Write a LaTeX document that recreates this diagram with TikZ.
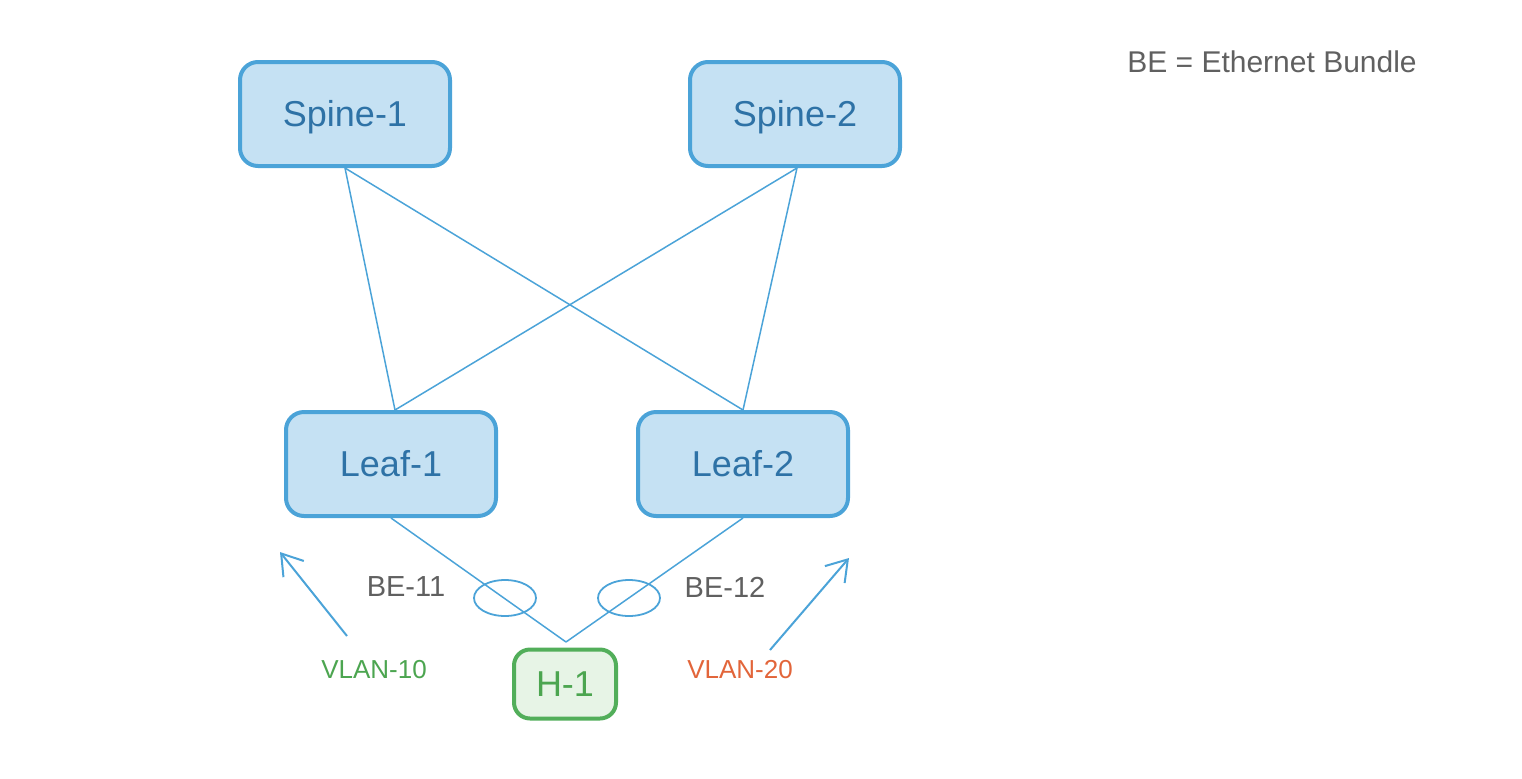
\documentclass[tikz,border=0pt]{standalone}
\usepackage{fontspec}
\setmainfont{Liberation Sans}
\usetikzlibrary{arrows.meta,shapes.geometric}
\definecolor{linkblue}{HTML}{4BA3D8}
\definecolor{boxfill}{HTML}{C5E1F3}
\definecolor{boxtext}{HTML}{2E72A6}
\definecolor{hostgreen}{HTML}{52AE5A}
\definecolor{hostfill}{HTML}{E7F4E6}
\definecolor{hosttext}{HTML}{4CA550}
\definecolor{labelgray}{HTML}{606060}
\definecolor{vlanorange}{HTML}{E2653A}
\tikzset{
  switchbox/.style={draw=linkblue, line width=2pt, fill=boxfill, rounded corners=9pt,
    minimum width=105pt, minimum height=52pt, text=boxtext, font=\fontsize{18}{20}\selectfont,
    text height=12.9pt, text depth=0pt},
  hostbox/.style={draw=hostgreen, line width=2pt, fill=hostfill, rounded corners=8pt,
    minimum width=51pt, minimum height=34.5pt, text=hosttext, font=\fontsize{18}{20}\selectfont,
    text height=12.9pt, text depth=0pt},
  link/.style={draw=linkblue, line width=0.75pt},
  bundle/.style={draw=linkblue, line width=0.9pt, ellipse, minimum width=31pt,
    minimum height=18pt, inner sep=0pt},
  belabel/.style={text=labelgray, font=\fontsize{14.5}{16}\selectfont},
  vlanlabel/.style={font=\fontsize{13}{15}\selectfont},
  flow/.style={draw=linkblue, line width=1pt, -{Straight Barb[length=10pt,width=13pt,line width=1pt]}},
}
\begin{document}
\begin{tikzpicture}[x=0.5pt, y=-0.5pt]
  \useasboundingbox (0,0) rectangle (1522,778);

  % switches
  \node[switchbox] (spine1) at (345,114) {Spine-1};
  \node[switchbox] (spine2) at (795,114) {Spine-2};
  \node[switchbox] (leaf1) at (391,464) {Leaf-1};
  \node[switchbox] (leaf2) at (743,464) {Leaf-2};

  % host
  \node[hostbox] (host) at (565,684) {H-1};
  \coordinate (hostup) at (566,642);

  % fabric links
  \draw[link] (spine1.south) -- ([xshift=2pt]leaf1.north);
  \draw[link] (spine1.south) -- (leaf2.north);
  \draw[link] ([xshift=1pt]spine2.south) -- ([xshift=2pt]leaf1.north);
  \draw[link] ([xshift=1pt]spine2.south) -- (leaf2.north);

  % access links to the host
  \draw[link] (leaf1.south) -- (hostup);
  \draw[link] (leaf2.south) -- (hostup);

  % bundle markers
  \node[bundle] (be11ring) at (505,598) {};
  \node[bundle] (be12ring) at (629,598) {};
  \node[belabel] (be11) at (406,587) {BE-11};
  \node[belabel] (be12) at (725,587) {BE-12};

  % vlan flows
  \coordinate (v10from) at (347,636);
  \coordinate (v10to) at (280,552);
  \coordinate (v20from) at (770,650);
  \coordinate (v20to) at (849,558);
  \draw[flow] (v10from) -- (v10to);
  \draw[flow] (v20from) -- (v20to);
  \node[vlanlabel, text=hosttext] (vlan10) at (374,670) {VLAN-10};
  \node[vlanlabel, text=vlanorange] (vlan20) at (740,670) {VLAN-20};

  % legend
  \node[text=labelgray, font=\fontsize{15}{17}\selectfont] (legend) at (1272,62) {BE = Ethernet Bundle};
\end{tikzpicture}
\end{document}
